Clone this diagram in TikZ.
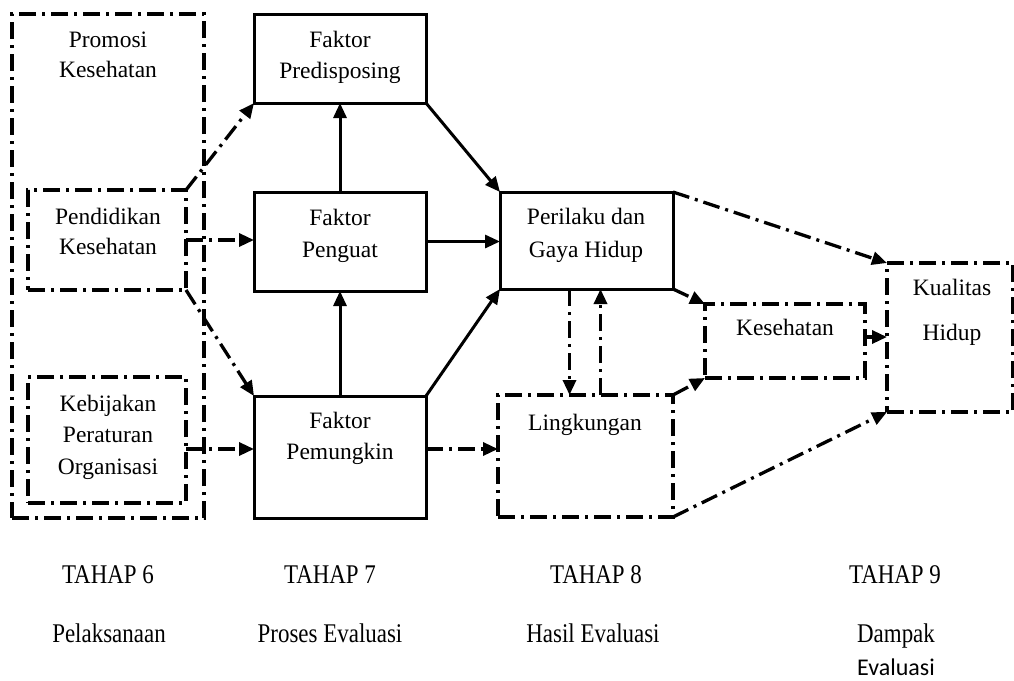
\documentclass[tikz,border=0pt]{standalone}
\usepackage{graphicx}
\usepackage{fontspec}
\setmainfont{Liberation Serif}
\newfontfamily\carl{Carlito}
\usetikzlibrary{arrows.meta}
\begin{document}
\begin{tikzpicture}[x=1pt,y=-1pt,
  box/.style={draw, line width=3pt, outer sep=0pt, inner sep=0pt},
  dbox/.style={draw, line width=3.3pt, dash pattern=on 17pt off 6pt on 3pt off 6pt, outer sep=0pt, inner sep=0pt},
  sa/.style={line width=3pt, -{Triangle[length=15pt,width=13pt]}},
  da/.style={line width=3.3pt, dash pattern=on 17pt off 6pt on 3pt off 6pt, -{Triangle[length=15pt,width=13pt]}},
  txt/.style={anchor=base, font=\fontsize{23.5}{28}\selectfont, inner sep=0pt},
  bot/.style={anchor=base, font=\fontsize{27}{32}\selectfont, inner sep=0pt},
]
\useasboundingbox[fill=white] (0,0) rectangle (1014,680);

% boxes
\node[dbox, minimum width=192pt, minimum height=504pt] (promosi) at (108,266) {};
\node[dbox, minimum width=158pt, minimum height=100pt] (pendidikan) at (107,240) {};
\node[dbox, minimum width=158pt, minimum height=126pt] (kebijakan) at (107,440) {};
\node[box, minimum width=172pt, minimum height=89pt] (pred) at (340,58.5) {};
\node[box, minimum width=172pt, minimum height=99pt] (penguat) at (340,241.5) {};
\node[box, minimum width=172pt, minimum height=122pt] (pemungkin) at (340,457) {};
\node[box, minimum width=173pt, minimum height=97pt] (perilaku) at (586.5,240.5) {};
\node[dbox, minimum width=175pt, minimum height=122pt] (lingkungan) at (585.5,456) {};
\node[dbox, minimum width=160pt, minimum height=74pt] (kesehatan) at (785,341) {};
\node[dbox, minimum width=126pt, minimum height=149pt] (kualitas) at (950,337.5) {};

% texts
\node[txt] (tpro1) at (108,47) {Promosi};
\node[txt] (tpro2) at (108,77) {Kesehatan};
\node[txt] (tpen1) at (108,224) {Pendidikan};
\node[txt] (tpen2) at (108,254) {Kesehatan};
\node[txt] (tkeb1) at (108,411) {Kebijakan};
\node[txt] (tkeb2) at (108,442) {Peraturan};
\node[txt] (tkeb3) at (108,474) {Organisasi};
\node[txt] (tpre1) at (340,47) {Faktor};
\node[txt] (tpre2) at (340,78) {Predisposing};
\node[txt] (tpg1) at (340,225) {Faktor};
\node[txt] (tpg2) at (340,257) {Penguat};
\node[txt] (tpm1) at (340,428) {Faktor};
\node[txt] (tpm2) at (340,459) {Pemungkin};
\node[txt] (tper1) at (586,224) {Perilaku dan};
\node[txt] (tper2) at (586,257) {Gaya Hidup};
\node[txt] (tlin) at (585,430) {Lingkungan};
\node[txt] (tkes) at (785,335) {Kesehatan};
\node[txt] (tkua1) at (952,295) {Kualitas};
\node[txt] (tkua2) at (952,340) {Hidup};

\node[bot] (th6) at (108,583) {\scalebox{0.85}[1]{TAHAP 6}};
\node[bot] (th7) at (330,583) {\scalebox{0.85}[1]{TAHAP 7}};
\node[bot] (th8) at (596,583) {\scalebox{0.85}[1]{TAHAP 8}};
\node[bot] (th9) at (895,583) {\scalebox{0.85}[1]{TAHAP 9}};
\node[bot] (tb6) at (109,642) {\scalebox{0.85}[1]{Pelaksanaan}};
\node[bot] (tb7) at (330,642) {\scalebox{0.85}[1]{Proses Evaluasi}};
\node[bot] (tb8) at (593,642) {\scalebox{0.85}[1]{Hasil Evaluasi}};
\node[bot] (tb9) at (896,642) {\scalebox{0.85}[1]{Dampak}};
\node[anchor=base, inner sep=0pt, font=\carl\fontsize{24}{28}\selectfont] (tb9b) at (896,675) {Evaluasi};

% solid arrows
\draw[sa] (penguat.north) -- (pred.south);
\draw[sa] (pemungkin.north) -- (penguat.south);
\draw[sa] (pred.south east) -- (perilaku.north west);
\draw[sa] (penguat.east) -- (penguat.east -| perilaku.west);
\draw[sa] (pemungkin.north east) -- (perilaku.south west);

% dash-dot arrows
\draw[da] (pendidikan.north east) -- (pred.south west);
\draw[da] (pendidikan.east) -- (pendidikan.east -| penguat.west);
\draw[da] (pendidikan.south east) -- (pemungkin.north west);
\draw[da] ([yshift=-9pt]kebijakan.east) -- ([yshift=-9pt]kebijakan.east -| pemungkin.west);
\draw[da] ([yshift=8pt]pemungkin.east) -- ([yshift=8pt]pemungkin.east -| lingkungan.west);
\draw[da] (perilaku.north east) -- (kualitas.north west);
\draw[da] (perilaku.south east) -- (kesehatan.north west);
\draw[da] (lingkungan.north east) -- (kesehatan.south west);
\draw[da] (lingkungan.south east) -- (kualitas.south west);
\draw[da] ([yshift=4pt]kesehatan.east) -- ([yshift=4pt]kesehatan.east -| kualitas.west);
\draw[da] ([xshift=-17pt]perilaku.south) -- ([xshift=-17pt]perilaku.south |- lingkungan.north);
\draw[da] ([xshift=15pt]lingkungan.north) -- ([xshift=15pt]lingkungan.north |- perilaku.south);
\end{tikzpicture}
\end{document}
